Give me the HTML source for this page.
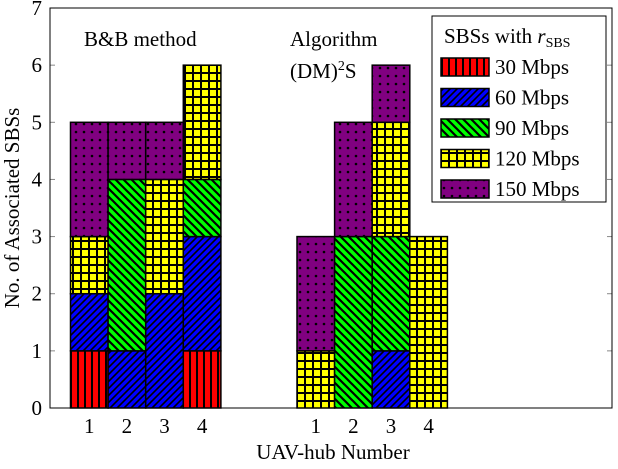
<!DOCTYPE html>
<html><head><meta charset="utf-8"><style>
body{margin:0;background:#fff}
svg text{font-family:"Liberation Serif",serif;fill:#000}
</style></head><body>
<svg id="chart" width="618" height="464" viewBox="0 0 618 464" xmlns="http://www.w3.org/2000/svg">
<defs>
<pattern id="p30" patternUnits="userSpaceOnUse" width="7" height="7"><rect width="7" height="7" fill="#ff0000"/><rect x="0" width="2" height="7" fill="#000"/></pattern>
<pattern id="p60" patternUnits="userSpaceOnUse" width="7" height="7"><rect width="7" height="7" fill="#0000ff"/><path d="M-1,8 L8,-1 M-2,2 L2,-2 M5,9 L9,5" stroke="#000" stroke-width="1.6"/></pattern>
<pattern id="p90" patternUnits="userSpaceOnUse" width="8" height="8"><rect width="8" height="8" fill="#00ff00"/><path d="M-1,-1 L9,9 M-3,5 L3,11 M5,-3 L11,3" stroke="#000" stroke-width="2.2"/></pattern>
<pattern id="p120" patternUnits="userSpaceOnUse" width="8" height="8"><rect width="8" height="8" fill="#ffff00"/><rect x="0" width="2" height="8" fill="#000"/><rect y="0" width="8" height="2" fill="#000"/></pattern>
<pattern id="p150" patternUnits="userSpaceOnUse" width="8" height="8"><rect width="8" height="8" fill="#800080"/><circle cx="4" cy="4" r="1.3" fill="#000"/></pattern>
</defs>
<g id="grid"></g>
<g id="bars"></g>
<rect x="50" y="8" width="562" height="400" fill="none" stroke="#000" stroke-width="1"/>
<text x="84" y="46" font-size="21">B&amp;B method</text>
<text x="290" y="46" font-size="21">Algorithm</text>
<text x="290" y="78" font-size="21">(DM)<tspan font-size="14" dy="-8">2</tspan><tspan dy="8">S</tspan></text>
<text x="333" y="459" font-size="21" text-anchor="middle">UAV-hub Number</text>
<text transform="translate(19,208) rotate(-90)" font-size="21" text-anchor="middle">No. of Associated SBSs</text>
<g id="legend">
<rect x="432" y="16" width="174" height="186" fill="#fff" stroke="#000"/>
<text x="444" y="43" font-size="21">SBSs with <tspan font-style="italic">r</tspan><tspan font-size="14" dy="4">SBS</tspan></text>
</g>
</svg>
<script>
const categories=["1","2","3","4","1","2","3","4"];
const rates=["30 Mbps","60 Mbps","90 Mbps","120 Mbps","150 Mbps"];
const s30=[1,0,0,1,0,0,0,0];
const s60=[1,1,2,2,0,0,1,0];
const s90=[0,3,0,1,0,3,2,0];
const s120=[1,0,2,2,1,0,2,3];
const s150=[2,1,1,0,2,2,1,0];
const yTicks=[0,1,2,3,4,5,6,7];
const NS="http://www.w3.org/2000/svg";
const series=[s30,s60,s90,s120,s150];
const fills=["url(#p30)","url(#p60)","url(#p90)","url(#p120)","url(#p150)"];
const y=v=>408-v*57.14;
const barW=37.6;
const x=i=>(i<4?70.5:297)+(i%4)*barW;
const svg=document.getElementById('chart');
const grid=document.getElementById('grid');
const bars=document.getElementById('bars');
const legend=document.getElementById('legend');
function mk(tag,attrs,parent){const e=document.createElementNS(NS,tag);for(const k in attrs)e.setAttribute(k,attrs[k]);parent.appendChild(e);return e;}
yTicks.forEach(t=>{
  const l=mk('line',{x1:50,x2:55,y1:y(t),y2:y(t),stroke:'#888'},grid);
  
  
  const r=mk('line',{x1:607,x2:612,y1:y(t),y2:y(t),stroke:'#888'},grid);
  
  
  const tx=mk('text',{x:42,y:y(t)+7,'font-size':21,'text-anchor':'end'},grid);
  tx.textContent=t;
  
  
});
categories.forEach((c,i)=>{
  let base=0;
  series.forEach((s,k)=>{
    const v=s[i];
    if(v>0){
      const r=mk('rect',{x:x(i),y:y(base+v),width:barW,height:y(base)-y(base+v),fill:fills[k],stroke:'#000','stroke-width':1.5},bars);
      
      
    }
    base+=v;
  });
  const t=mk('text',{x:x(i)+barW/2,y:433,'font-size':21,'text-anchor':'middle'},svg);
  t.textContent=c;
  
  
});
rates.forEach((r,k)=>{
  const yy=58+k*30.5;
  const sw=mk('rect',{x:441,y:yy,width:48,height:18,fill:fills[k],stroke:'#000','stroke-width':1.5},legend);
  
  
  const t=mk('text',{x:495,y:yy+16,'font-size':21},legend);
  t.textContent=r;
  
  
});
</script>
</body></html>
